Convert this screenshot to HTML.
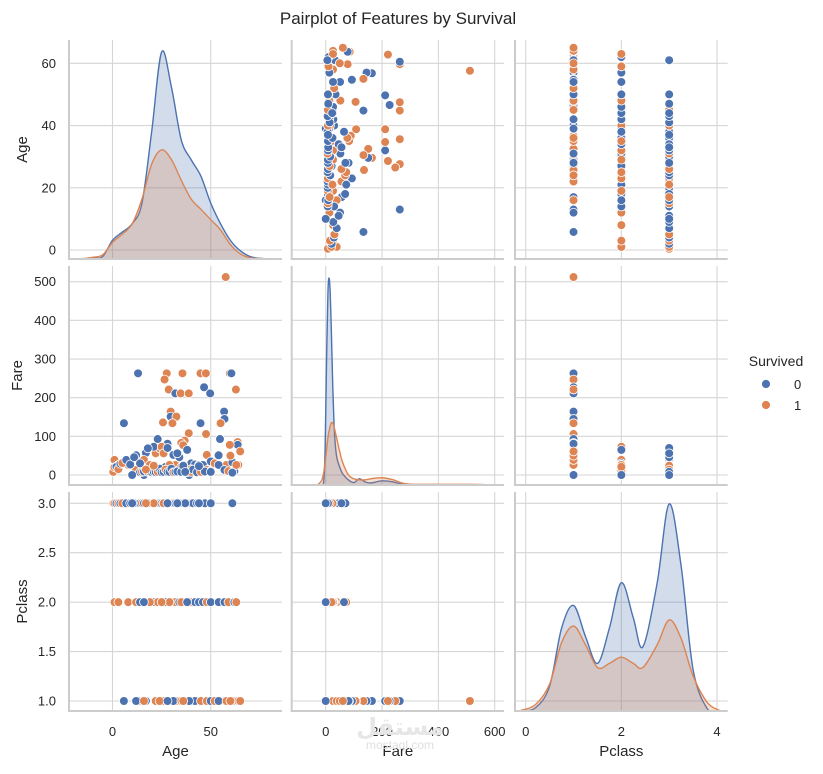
<!DOCTYPE html>
<html><head><meta charset="utf-8">
<style>
html,body{margin:0;padding:0;background:#fff;}
svg text{font-family:"Liberation Sans","DejaVu Sans",sans-serif;fill:#262626;}
</style></head>
<body>
<svg id="chart" width="823" height="769" viewBox="0 0 823 769" xmlns="http://www.w3.org/2000/svg">
<rect width="823" height="769" fill="#fff"/>
<text x="398" y="24" font-size="17" text-anchor="middle">Pairplot of Features by Survival</text>
<g id="panels"></g>
<g>
<text x="776" y="366" font-size="14" text-anchor="middle">Survived</text>
<circle cx="766" cy="384" r="4.5" fill="#4c72b0" stroke="#fff" stroke-width="0.8"/>
<text x="794" y="389" font-size="13">0</text>
<circle cx="766" cy="405" r="4.5" fill="#dd8452" stroke="#fff" stroke-width="0.8"/>
<text x="794" y="410" font-size="13">1</text>
</g>
<text x="400" y="735" font-size="24" text-anchor="middle" style="fill:#e6e6e6" font-weight="bold">مستقل</text>
<text x="400" y="749" font-size="12" text-anchor="middle" style="fill:#e0e0e0">mostaql.com</text>
</svg>
<script>
// passengers: [age, fare, pclass, survived]
const passengers = [
[57.6,512,1,1],[13,263,1,0],[27.6,263,1,1],[35.6,263,1,1],[44.8,263,1,1],[47.5,263,1,1],[59.7,263,1,1],[60.5,263,1,0],
[26.5,247,1,1],[28.6,221,1,1],[32,211,1,0],[34.7,211,1,1],[38.8,211,1,1],[46.6,227,1,0],[49.7,211,1,0],[62.8,221,1,1],
[29.6,164,1,1],[29.6,151,1,0],[32.5,151,1,1],[25.7,136,1,1],[30.5,134,1,1],[5.8,134,1,0],[44.8,134,1,0],[56.8,164,1,0],
[57,145,1,0],[55,134,1,1],[38.8,108,1,1],[47.6,106,1,1],[23,93,1,0],[36.7,89,1,1],[63.7,85,1,1],[63.7,78,1,0],[59.7,78,1,1],[54.7,93,1,0],
[17,57,1,0],[12,51,1,0],[22,56,1,1],[31,52,1,0],[35,83,1,1],[40,30,1,0],[42,27,1,0],[45,26,1,1],[48,52,1,1],[50,35,1,0],
[52,30,1,1],[54,51,1,0],[58,26,1,1],[61,33,1,0],[64,26,1,1],[39,0,1,0],[24,69,1,1],[36,77,1,1],[16,39,1,1],[28,81,1,0],[60,50,1,1],[65,61,1,1],
[1,39,2,1],[3,26,2,1],[8,26,2,1],[12,13,2,1],[14,30,2,0],[18,13,2,0],[21,73,2,0],[24,13,2,0],[27,21,2,0],[30,13,2,0],[31,10,2,0],
[32,26,2,1],[34,13,2,0],[36,26,2,0],[39,13,2,0],[40,15,2,1],[42,13,2,0],[44,26,2,0],[46,26,2,0],[48,13,2,1],[50,10,2,0],[54,26,2,0],
[57,13,2,0],[59,10,2,1],[62,10,2,0],[63,26,2,1],[29,26,2,1],[23,11,2,1],[19,26,2,1],[35,21,2,1],[25,73,2,1],[38,65,2,0],[16,0,2,0],
[0.4,8,3,1],[1,20,3,1],[2,21,3,0],[3,15,3,1],[4,29,3,0],[5,31,3,1],[7,39,3,0],[9,27,3,0],[11,46,3,0],[14,7,3,0],[15,8,3,1],[16,9,3,0],
[18,8,3,0],[19,8,3,1],[20,7,3,0],[21,8,3,0],[22,7,3,0],[23,8,3,1],[24,16,3,0],[25,7,3,0],[26,8,3,0],[27,14,3,1],[28,8,3,0],[29,8,3,0],
[30,16,3,0],[31,7,3,1],[32,8,3,0],[33,9,3,0],[35,8,3,0],[36,24,3,0],[38,7,3,0],[40,8,3,1],[41,14,3,0],[43,7,3,0],[45,8,3,1],[47,9,3,0],
[50,8,3,0],[61,6,3,0],[18,69,3,0],[26,56,3,1],[34,46,3,0],[44,23,3,0],[21,24,3,1],[17,14,3,1],[37,8,3,0],[28,70,3,0],[10,0,3,0],[33,56,3,0]
];
// KDE curves (grid x, density for class 0 and class 1)
const ageKdeX = [-17,-10,-5,0,5,10,15,20,25,30,35,40,45,50,55,60,65,70,75,80];
const ageKde0 = [0,0.004,0.012,0.09,0.13,0.17,0.27,0.62,1.0,0.83,0.575,0.48,0.40,0.27,0.17,0.09,0.04,0.012,0.003,0];
const ageKde1 = [0,0.008,0.02,0.08,0.12,0.17,0.29,0.46,0.527,0.48,0.38,0.29,0.24,0.19,0.14,0.07,0.025,0.006,0.002,0];
const fareKdeX = [-30,-15,-7,-2,3,8,12,16,20,25,30,35,40,50,60,80,100,120,140,160,200,240,270,300,400,512,600];
const fareKde0 = [0,0,0.02,0.18,0.6,0.93,1.0,0.93,0.75,0.48,0.28,0.18,0.13,0.085,0.055,0.025,0.012,0.03,0.015,0.01,0.02,0.015,0.004,0,0,0,0];
const fareKde1 = [0,0.02,0.06,0.11,0.17,0.23,0.26,0.285,0.30,0.30,0.28,0.25,0.22,0.16,0.11,0.05,0.03,0.025,0.025,0.03,0.035,0.025,0.01,0.004,0.003,0.003,0];
const pclassKdeX = [-0.1,0.2,0.5,0.75,1,1.25,1.5,1.75,2,2.25,2.45,2.75,3,3.25,3.5,3.8,4.05];
const pclassKde0 = [0,0.015,0.12,0.4,0.51,0.36,0.23,0.4,0.62,0.45,0.31,0.62,1.0,0.7,0.2,0.01,0];
const pclassKde1 = [0.003,0.03,0.13,0.33,0.41,0.32,0.21,0.23,0.26,0.23,0.21,0.32,0.44,0.35,0.17,0.04,0.003];
const ageTicks = [0,20,40,60], ageXTicks = [0,50];
const fareTicks = [0,100,200,300,400,500], fareXTicks = [0,200,400,600];
const pclassTicks = [1.0,1.5,2.0,2.5,3.0], pclassXTicks = [0,2,4];

const NS = "http://www.w3.org/2000/svg";
const root = document.getElementById('panels');
const colors = ['#4c72b0','#dd8452'];
const fills = ['rgba(76,114,176,0.25)','rgba(221,132,82,0.25)'];
function lin(d0,d1,r0,r1){return v=>r0+(v-d0)*(r1-r0)/(d1-d0);}
const cols = [[69,282],[291.7,504],[515,727.7]];
const rows = [[40,259],[266,485],[492,711]];
const vars = [
 {name:'Age', idx:0, xs:lin(0,50,112.5,210.75), ys:lin(0,60,250,63.3), yt:ageTicks, xt:ageXTicks, fmt:v=>String(v), kx:ageKdeX, k:[ageKde0,ageKde1]},
 {name:'Fare', idx:1, xs:lin(0,600,325.7,494.7), ys:lin(0,500,475,281.7), yt:fareTicks, xt:fareXTicks, fmt:v=>String(v), kx:fareKdeX, k:[fareKde0,fareKde1]},
 {name:'Pclass', idx:2, xs:lin(0,4,525.7,717), ys:lin(1,3,701,503.3), yt:pclassTicks, xt:pclassXTicks, fmt:v=>v.toFixed(1), kx:pclassKdeX, k:[pclassKde0,pclassKde1]}
];
function mk(tag,attrs,parent){const e=document.createElementNS(NS,tag);for(const k in attrs)e.setAttribute(k,attrs[k]);(parent||root).appendChild(e);return e;}
function smooth(pts){
  let d='M'+pts[0][0]+','+pts[0][1];
  for(let i=0;i<pts.length-1;i++){
    const p0=pts[Math.max(0,i-1)],p1=pts[i],p2=pts[i+1],p3=pts[Math.min(pts.length-1,i+2)];
    const c1=[p1[0]+(p2[0]-p0[0])/6,p1[1]+(p2[1]-p0[1])/6];
    const c2=[p2[0]-(p3[0]-p1[0])/6,p2[1]-(p3[1]-p1[1])/6];
    d+=' C'+c1[0].toFixed(2)+','+c1[1].toFixed(2)+' '+c2[0].toFixed(2)+','+c2[1].toFixed(2)+' '+p2[0].toFixed(2)+','+p2[1].toFixed(2);
  }
  return d;
}
for(let r=0;r<3;r++){
  for(let c=0;c<3;c++){
    const [x0,x1]=cols[c],[y0,y1]=rows[r];
    const vx=vars[c], vy=vars[r];
    const g=mk('g',{});
    
    
    const cid='clip'+r+c;
    const cp=mk('clipPath',{id:cid},g); mk('rect',{x:x0,y:y0-6,width:x1-x0,height:y1-y0+6},cp);
    vx.xt.forEach(t=>{const x=vx.xs(t);const l=mk('line',{x1:x,x2:x,y1:y0,y2:y1,stroke:'#d6d6d6','stroke-width':1.1},g);
      });
    vy.yt.forEach(t=>{const y=vy.ys(t);const l=mk('line',{x1:x0,x2:x1,y1:y,y2:y,stroke:'#d6d6d6','stroke-width':1.1},g);
      });
    const inner=mk('g',{'clip-path':'url(#'+cid+')'},g);
    if(r===c){
      const dmax=1.0, hs=lin(0,dmax,y1,y1-207);
      for(let s=0;s<2;s++){
        const pts=vx.kx.map((xv,i)=>[vx.xs(xv),hs(vx.k[s][i])]);
        const d=smooth(pts);
        const f=mk('path',{d:d+' L'+pts[pts.length-1][0]+','+y1+' L'+pts[0][0]+','+y1+' Z',fill:fills[s],stroke:'none'},inner);
        
        const ln=mk('path',{d:d+' L'+pts[pts.length-1][0]+','+y1+' L'+pts[0][0]+','+y1,fill:'none',stroke:colors[s],'stroke-width':1.4},inner);
        
      }
    } else {
      passengers.forEach(p=>{
        const ci=mk('circle',{cx:vx.xs(p[vx.idx]).toFixed(2),cy:vy.ys(p[vy.idx]).toFixed(2),r:4.4,fill:colors[p[3]],stroke:'#fff','stroke-width':0.8},inner);
        
      });
    }
    const sl=mk('line',{x1:x0,x2:x0,y1:y0,y2:y1+1,stroke:'#cccccc','stroke-width':2},g);
    
    const sb=mk('line',{x1:x0-1,x2:x1,y1:y1,y2:y1,stroke:'#cccccc','stroke-width':2},g);
    
    if(c===0){
      vy.yt.forEach(t=>{const tx=mk('text',{x:56,y:vy.ys(t)+4.5,'font-size':13,'text-anchor':'end'},g);tx.textContent=vy.fmt(t);
        });
      const yc=(y0+y1)/2, lx=r===1?22:27;
      const lab=mk('text',{x:lx,y:yc,'font-size':15,'text-anchor':'middle',transform:'rotate(-90 '+lx+' '+yc+')'},g);
      lab.textContent=vy.name;
      
    }
    if(r===2){
      vx.xt.forEach(t=>{const tx=mk('text',{x:vx.xs(t),y:736,'font-size':13,'text-anchor':'middle'},g);tx.textContent=String(t);
        });
      const lab=mk('text',{x:(x0+x1)/2,y:756,'font-size':15,'text-anchor':'middle'},g);
      lab.textContent=vx.name;
      
    }
  }
}
</script>
</body></html>
